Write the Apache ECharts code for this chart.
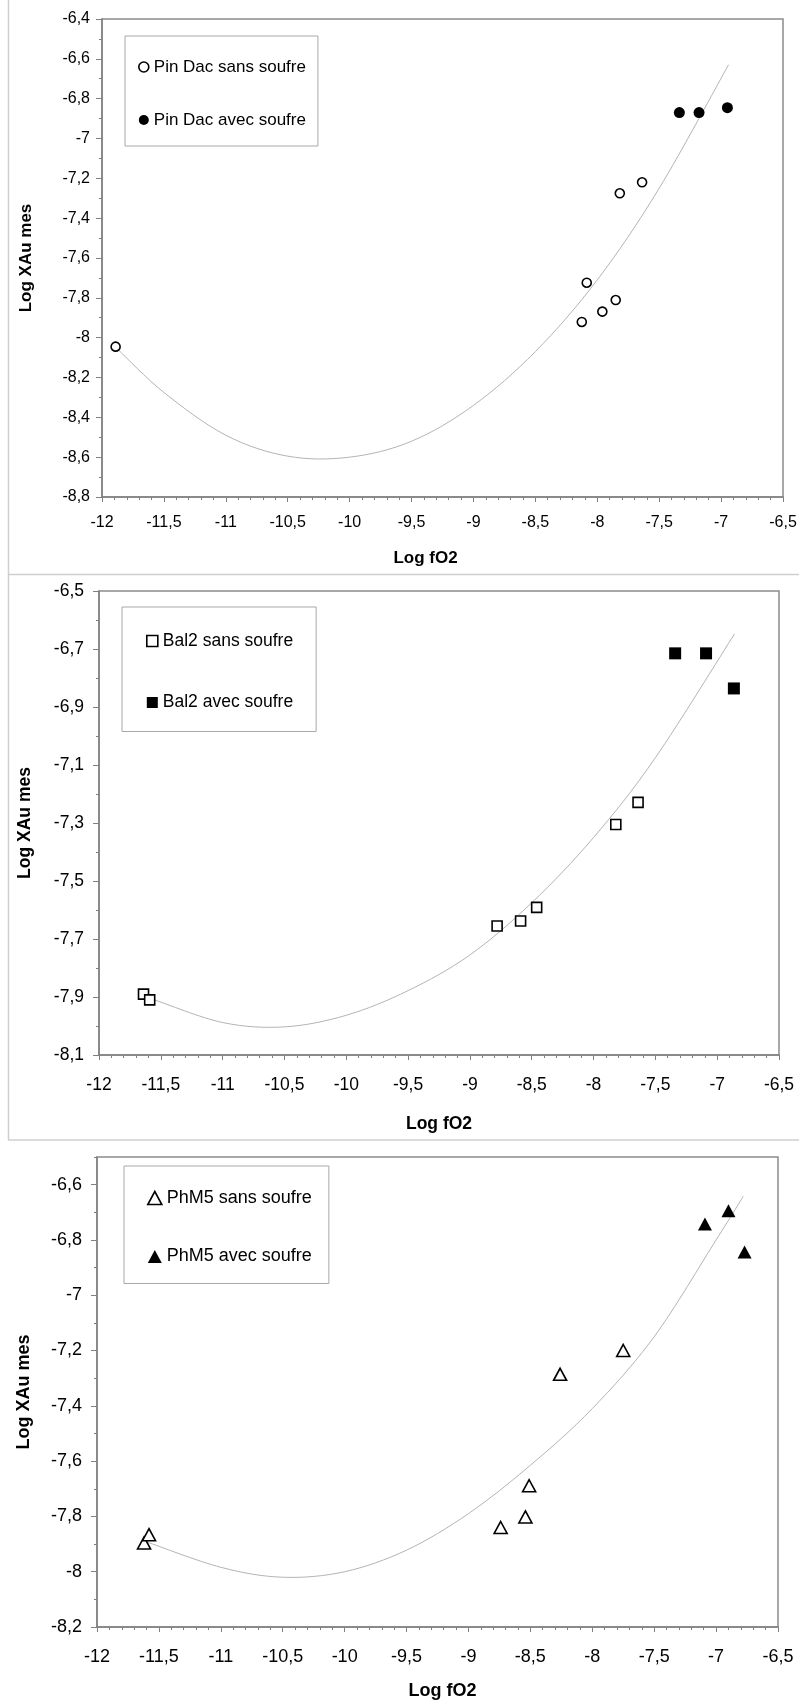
<!DOCTYPE html>
<html><head><meta charset="utf-8">
<script src="https://cdn.jsdelivr.net/npm/echarts@6/dist/echarts.min.js"></script>
<style>html,body{margin:0;padding:0;background:#fff}#c{width:799px;height:1706px}</style>
</head><body><div id="c"></div>
<script>
// ---------- data ----------
const xAxisTitle = 'Log fO2';
const yAxisTitle = 'Log XAu mes';

// Panel 1 : Pin Dac
const p1Names = ['Pin Dac sans soufre', 'Pin Dac avec soufre'];
const p1SansX = [-11.89, -8.085, -7.818, -7.638, -8.125, -7.959, -7.851];
const p1SansY = [-8.045, -7.724, -7.275, -7.220, -7.921, -7.869, -7.811];
const p1AvecX = [-7.337, -7.178, -6.949];
const p1AvecY = [-6.870, -6.870, -6.845];
const p1CurveX = [-11.87, -11.5, -11.0, -10.5, -10.0, -9.5, -9.0, -8.5, -8.0, -7.5, -6.94];
const p1CurveY = [-8.06, -8.275, -8.49, -8.595, -8.60, -8.52, -8.34, -8.07, -7.71, -7.25, -6.63];
const p1YTicks = [-8.8, -8.6, -8.4, -8.2, -8, -7.8, -7.6, -7.4, -7.2, -7, -6.8, -6.6, -6.4];

// Panel 2 : Bal2
const p2Names = ['Bal2 sans soufre', 'Bal2 avec soufre'];
const p2SansX = [-11.64, -11.59, -8.78, -8.59, -8.46, -7.82, -7.64];
const p2SansY = [-7.890, -7.910, -7.655, -7.638, -7.591, -7.305, -7.229];
const p2AvecX = [-7.34, -7.09, -6.865];
const p2AvecY = [-6.715, -6.715, -6.836];
const p2CurveX = [-11.55, -11.0, -10.5, -10.0, -9.5, -9.0, -8.5, -8.0, -7.5, -6.86];
const p2CurveY = [-7.910, -7.988, -8.003, -7.963, -7.878, -7.755, -7.575, -7.350, -7.075, -6.648];
const p2YTicks = [-8.1, -7.9, -7.7, -7.5, -7.3, -7.1, -6.9, -6.7, -6.5];

// Panel 3 : PhM5
const p3Names = ['PhM5 sans soufre', 'PhM5 avec soufre'];
const p3SansX = [-11.62, -11.58, -8.74, -8.54, -8.51, -8.26, -7.75];
const p3SansY = [-7.896, -7.866, -7.840, -7.802, -7.689, -7.286, -7.200];
const p3AvecX = [-7.09, -6.90, -6.77];
const p3AvecY = [-6.742, -6.694, -6.844];
const p3CurveX = [-11.60, -11.0, -10.5, -10.0, -9.5, -9.0, -8.5, -8.0, -7.5, -7.0, -6.78];
const p3CurveY = [-7.892, -7.984, -8.020, -8.000, -7.922, -7.790, -7.615, -7.410, -7.150, -6.800, -6.642];
const p3YTicks = [-8.2, -8, -7.8, -7.6, -7.4, -7.2, -7, -6.8, -6.6];

const xMin = -12, xMax = -6.5, xStep = 0.5;

// ---------- build ----------
const FONT = "'Liberation Sans', Arial, sans-serif";
const AX = '#808080';
const pair = (xs, ys) => xs.map((x, i) => [x, ys[i]]);
const fmt = v => String(Math.round(v * 10) / 10).replace('.', ',');

// smooth trend line through the read points (Catmull-Rom segments drawn in pixel space)
function curveRenderer(xs, ys) {
  const n = xs.length;
  return function (params, api) {
    const i = params.dataIndex;
    if (i >= n - 1) return null;
    const P = j => { const k = Math.max(0, Math.min(n - 1, j)); return api.coord([xs[k], ys[k]]); };
    const p0 = P(i - 1), p1 = P(i), p2 = P(i + 1), p3 = P(i + 2);
    return {
      type: 'bezierCurve',
      shape: {
        x1: p1[0], y1: p1[1], x2: p2[0], y2: p2[1],
        cpx1: p1[0] + (p2[0] - p0[0]) / 6, cpy1: p1[1] + (p2[1] - p0[1]) / 6,
        cpx2: p2[0] - (p3[0] - p1[0]) / 6, cpy2: p2[1] - (p3[1] - p1[1]) / 6
      },
      style: { stroke: '#b4b4b4', lineWidth: 1, fill: null }
    };
  };
}

const panels = [
  { names: p1Names, sx: p1SansX, sy: p1SansY, ax: p1AvecX, ay: p1AvecY, cx: p1CurveX, cy: p1CurveY, yTicks: p1YTicks,
    yMin: -8.8, yMax: -6.4, sym: 'circle', open: 9, filled: 11, legSym: [10, 10],
    grid: { left: 102, top: 19, width: 681, height: 478 },
    fs: 16, lfs: 17, tfs: 17, xMargin: 18, yMargin: 12, xNameGap: 53, xNamePad: [0, 34, 0, 0], yNameGap: 67,
    legend: { left: 125, top: 36, padding: [21, 12, 16, 13], itemGap: 33 } },
  { names: p2Names, sx: p2SansX, sy: p2SansY, ax: p2AvecX, ay: p2AvecY, cx: p2CurveX, cy: p2CurveY, yTicks: p2YTicks,
    yMin: -8.1, yMax: -6.5, sym: 'rect', open: 10, filled: 12, legSym: [11, 11],
    grid: { left: 99, top: 591, width: 680, height: 464 },
    fs: 17.5, lfs: 17.5, tfs: 17.5, xMargin: 21, yMargin: 15, xNameGap: 60, xNamePad: [0, 0, 0, 0], yNameGap: 65,
    legend: { left: 122, top: 607, padding: [24, 23, 19, 24], itemGap: 41.5 } },
  { names: p3Names, sx: p3SansX, sy: p3SansY, ax: p3AvecX, ay: p3AvecY, cx: p3CurveX, cy: p3CurveY, yTicks: p3YTicks,
    yMin: -8.2, yMax: -6.5, sym: 'triangle', open: [13, 12], filled: [14, 13], legSym: [14, 13],
    grid: { left: 97, top: 1157, width: 681, height: 470 },
    fs: 18, lfs: 18, tfs: 18, xMargin: 21, yMargin: 15, xNameGap: 55, xNamePad: [0, 0, 0, 10], yNameGap: 64,
    legend: { left: 124, top: 1166, padding: [22, 17, 17, 23], itemGap: 38.5 } }
];

const grid = [], xAxis = [], yAxis = [], series = [], legend = [];
panels.forEach((p, k) => {
  grid.push(Object.assign({ show: true, borderColor: '#8c8c8c', borderWidth: 1.5, backgroundColor: '#fff', outerBoundsMode: 'none', containLabel: false }, p.grid));
  xAxis.push({
    type: 'value', gridIndex: k, min: xMin, max: xMax, interval: xStep,
    name: xAxisTitle, nameLocation: 'middle', nameGap: p.xNameGap,
    nameTextStyle: { fontFamily: FONT, fontWeight: 'bold', fontSize: p.tfs, color: '#000', padding: p.xNamePad, verticalAlign: 'top' },
    axisLine: { show: true, onZero: false, lineStyle: { color: AX, width: 1.5 } },
    axisTick: { show: true, length: 5, lineStyle: { color: AX, width: 1 } },
    minorTick: { show: true, splitNumber: 5, length: 3, lineStyle: { color: AX, width: 1 } },
    splitLine: { show: false }, minorSplitLine: { show: false },
    axisLabel: { margin: p.xMargin, fontFamily: FONT, fontSize: p.fs, color: '#000', formatter: fmt, hideOverlap: false }
  });
  // main y axis (labels + minor ticks every 0.1)
  yAxis.push({
    type: 'value', gridIndex: k, position: 'left', min: p.yMin, max: p.yMax, interval: 0.1,
    name: yAxisTitle, nameLocation: 'middle', nameGap: p.yNameGap, nameRotate: 90,
    nameTextStyle: { fontFamily: FONT, fontWeight: 'bold', fontSize: p.tfs, color: '#000' },
    axisLine: { show: true, onZero: false, lineStyle: { color: AX, width: 1.5 } },
    axisTick: { show: true, length: 3, lineStyle: { color: AX, width: 1 } },
    splitLine: { show: false },
    axisLabel: { customValues: p.yTicks, margin: p.yMargin, fontFamily: FONT, fontSize: p.fs, color: '#000', formatter: fmt, hideOverlap: false }
  });
  // overlay y axis for the longer major ticks
  yAxis.push({
    type: 'value', gridIndex: k, position: 'left', min: p.yMin, max: p.yMax, interval: 0.1,
    axisLine: { show: false, onZero: false },
    axisTick: { show: true, customValues: p.yTicks, length: 6, lineStyle: { color: AX, width: 1 } },
    axisLabel: { show: false }, splitLine: { show: false }
  });
  const yi = 2 * k;
  series.push({
    type: 'custom', name: 'tendance ' + k, coordinateSystem: 'cartesian2d', xAxisIndex: k, yAxisIndex: yi,
    data: pair(p.cx, p.cy), renderItem: curveRenderer(p.cx, p.cy), silent: true, z: 2,
    encode: { x: 0, y: 1 }
  });
  series.push({
    type: 'scatter', name: p.names[0], xAxisIndex: k, yAxisIndex: yi, data: pair(p.sx, p.sy),
    symbol: p.sym, symbolSize: p.open, z: 4,
    itemStyle: { color: '#fff', borderColor: '#000', borderWidth: 1.6, opacity: 1 }
  });
  series.push({
    type: 'scatter', name: p.names[1], xAxisIndex: k, yAxisIndex: yi, data: pair(p.ax, p.ay),
    symbol: p.sym, symbolSize: p.filled, z: 4,
    itemStyle: { color: '#000', borderWidth: 0, opacity: 1 }
  });
  legend.push(Object.assign({
    orient: 'vertical', selectedMode: false,
    itemWidth: p.legSym[0], itemHeight: p.legSym[1],
    borderColor: '#a8a8a8', borderWidth: 1, backgroundColor: '#fff', borderRadius: 0,
    textStyle: { fontFamily: FONT, fontSize: p.lfs, lineHeight: 20, color: '#000' },
    data: [
      { name: p.names[0], icon: p.sym, itemStyle: { color: '#fff', borderColor: '#000', borderWidth: 1.6 } },
      { name: p.names[1], icon: p.sym, itemStyle: { color: '#000', borderWidth: 0 } }
    ]
  }, p.legend));
});

const chart = echarts.init(document.getElementById('c'), null, { renderer: 'canvas' });
chart.setOption({
  animation: false,
  backgroundColor: '#fff',
  textStyle: { fontFamily: FONT },
  grid, xAxis, yAxis, series, legend,
  graphic: [
    { type: 'line', silent: true, shape: { x1: 8.5, y1: 0, x2: 8.5, y2: 1140 }, style: { stroke: '#cfcfcf', lineWidth: 1.5 } },
    { type: 'line', silent: true, shape: { x1: 8, y1: 574.5, x2: 799, y2: 574.5 }, style: { stroke: '#cfcfcf', lineWidth: 1.5 } },
    { type: 'line', silent: true, shape: { x1: 8, y1: 1140, x2: 799, y2: 1140 }, style: { stroke: '#cfcfcf', lineWidth: 1.5 } }
  ]
});
</script>
</body></html>
